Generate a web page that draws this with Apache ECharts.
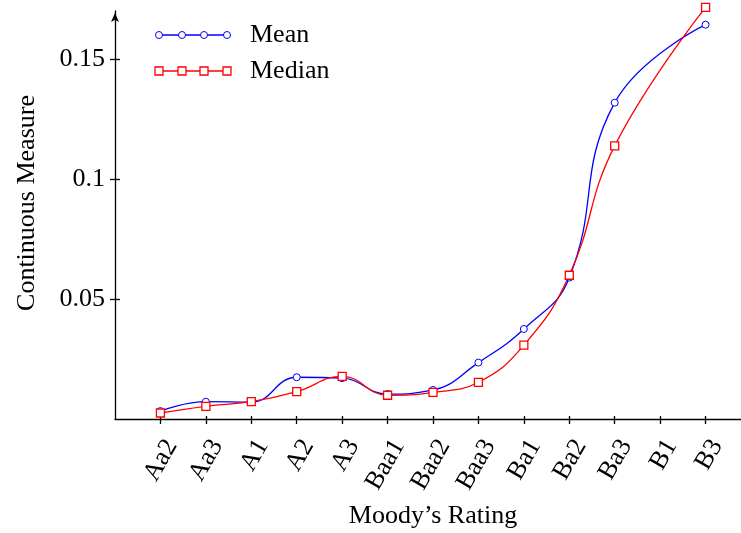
<!DOCTYPE html>
<html>
<head>
<meta charset="utf-8">
<script src="https://cdn.jsdelivr.net/npm/echarts@6/dist/echarts.min.js"></script>
<style>html,body{margin:0;padding:0;background:#fff}#c{width:741px;height:533px}</style>
</head>
<body>
<div id="c"></div>
<script>
const categories = ['Aa2','Aa3','A1','A2','A3','Baa1','Baa2','Baa3','Ba1','Ba2','Ba3','B1','B3'];
const meanValues = [0.0033,0.0072,0.0070,0.0174,0.0170,0.0104,0.0121,0.0235,0.0375,0.0589,0.1318,null,0.1643];
const medianValues = [0.0025,0.0053,0.0072,0.0114,0.0178,0.0099,0.0111,0.0153,0.0308,0.0599,0.1138,null,0.1715];
const yTicks = [0.05,0.1,0.15];
const seriesNames = ['Mean','Median'];

const FONT = '"Liberation Serif","DejaVu Serif",serif';
const BLUE = '#0000ff', RED = '#ff0000';
const catIdx = categories.map((c,i)=>i);
const toPairs = arr => arr.map((v,i)=>[i,v]).filter(d=>d[1]!==null);

const chart = echarts.init(document.getElementById('c'), null, {renderer:'canvas'});

function legendItem(y, color, symbol, name){
  const xs = [159,182,204,227];
  const els = [{type:'line', shape:{x1:157,y1:y,x2:229,y2:y}, style:{stroke:color, lineWidth:1.3}}];
  xs.forEach(x=>{
    if(symbol==='circle') els.push({type:'circle', shape:{cx:x,cy:y,r:3.5}, style:{fill:'#fff', stroke:color, lineWidth:1}});
    else els.push({type:'rect', shape:{x:x-4,y:y-4,width:8,height:8}, style:{fill:'#fff', stroke:color, lineWidth:1.3}});
  });
  els.push({type:'text', x:250, y:y, style:{text:name, font:'26px '+FONT, fill:'#000', verticalAlign:'middle', align:'left'}});
  return els;
}

chart.setOption({
  animation:false,
  backgroundColor:'#fff',
  grid:{left:115, right:-10, top:11, bottom:114, containLabel:false, outerBoundsMode:'none'},
  xAxis:[{
    type:'value', min:-1, max:13, interval:1,
    axisLine:{show:true, onZero:false, lineStyle:{color:'#000', width:1.3}},
    axisTick:{show:true, length:5, customValues:catIdx, lineStyle:{color:'#000', width:1.3}},
    axisLabel:{customValues:catIdx, formatter:v=>categories[v]||'', rotate:60, verticalAlign:'top', fontFamily:FONT, fontSize:26, color:'#000', margin:16},
    splitLine:{show:false},
    name:'Moody\u2019s Rating', nameLocation:'middle', nameGap:84,
    nameTextStyle:{fontFamily:FONT, fontSize:26, color:'#000'}
  },{
    type:'value', min:-1, max:13, interval:1, position:'bottom', offset:0,
    axisLine:{show:false, onZero:false},
    axisTick:{show:true, inside:true, length:3, customValues:catIdx, lineStyle:{color:'#000', width:1.3}},
    axisLabel:{show:false}, splitLine:{show:false}
  }],
  yAxis:[{
    type:'value', min:0, max:0.17,
    axisLine:{show:true, onZero:false, symbol:['none','arrow'], symbolSize:[6,9], symbolOffset:[0,-2], lineStyle:{color:'#000', width:1.3}},
    axisTick:{show:true, length:5, customValues:yTicks, lineStyle:{color:'#000', width:1.3}},
    axisLabel:{customValues:yTicks, formatter:v=>String(v), fontFamily:FONT, fontSize:26, color:'#000', margin:10},
    splitLine:{show:false},
    name:'Continuous Measure', nameLocation:'middle', nameGap:75,
    nameTextStyle:{fontFamily:FONT, fontSize:26, color:'#000', padding:[0,0,0,24]}
  },{
    type:'value', min:0, max:0.17, position:'left', offset:0,
    axisLine:{show:false, onZero:false},
    axisTick:{show:true, inside:true, length:5, customValues:yTicks, lineStyle:{color:'#000', width:1.3}},
    axisLabel:{show:false}, splitLine:{show:false}
  }],
  graphic: [].concat(legendItem(35, BLUE, 'circle', seriesNames[0]), legendItem(71, RED, 'rect', seriesNames[1])),
  series:[{
    name:seriesNames[0], type:'line', data:toPairs(meanValues), smooth:0.45, connectNulls:true, clip:false,
    symbol:'circle', symbolSize:7,
    itemStyle:{color:'#fff', borderColor:BLUE, borderWidth:1},
    lineStyle:{color:BLUE, width:1.3}
  },{
    name:seriesNames[1], type:'line', data:toPairs(medianValues), smooth:0.45, connectNulls:true, clip:false,
    symbol:'rect', symbolSize:8,
    itemStyle:{color:'#fff', borderColor:RED, borderWidth:1.3},
    lineStyle:{color:RED, width:1.3}
  }]
});
</script>
</body>
</html>
